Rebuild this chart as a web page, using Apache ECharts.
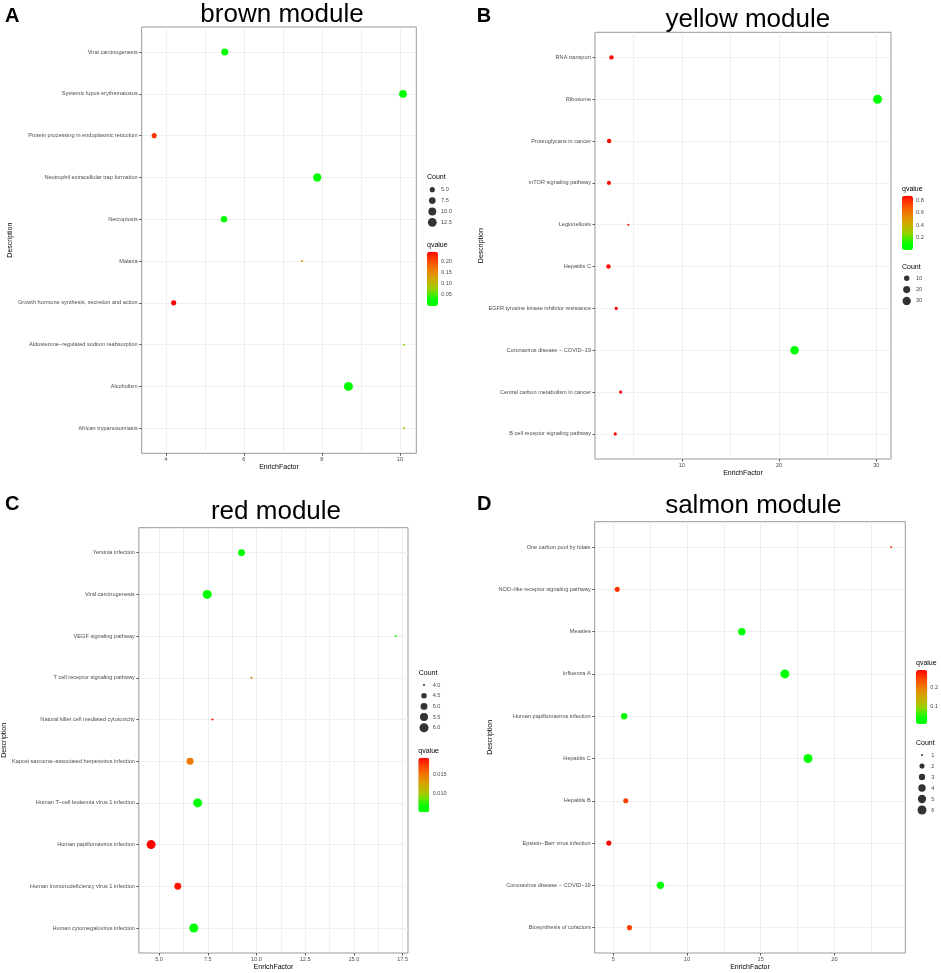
<!DOCTYPE html>
<html>
<head>
<meta charset="utf-8">
<title>KEGG enrichment of modules</title>
<script src="https://cdn.jsdelivr.net/npm/echarts@6/dist/echarts.min.js"></script>
<style>
html, body { margin: 0; padding: 0; background: #fff; }
#main { width: 941px; height: 973px; }
</style>
</head>
<body>
<div id="main"></div>
<script>
// A - brown module (categories listed top to bottom)
var catsA = ['Viral carcinogenesis', 'Systemic lupus erythematosus', 'Protein processing in endoplasmic reticulum',
    'Neutrophil extracellular trap formation', 'Necroptosis', 'Malaria', 'Growth hormone synthesis, secretion and action',
    'Aldosterone\u2212regulated sodium reabsorption', 'Alcoholism', 'African trypanosomiasis'];
var efA = [5.51, 10.08, 3.70, 7.88, 5.49, 7.49, 4.20, 10.10, 8.68, 10.10];
var cntA = [8, 10, 5, 11, 7, 3, 5, 3, 13, 3];
var qA = [0.003, 0.002, 0.21, 0.002, 0.008, 0.15, 0.241, 0.07, 0.001, 0.07];
var xTicksA = [4, 6, 8, 10];
var xGridA = [4, 5, 6, 7, 8, 9, 10];
var cntBreaksA = [5, 7.5, 10, 12.5];
var qBreaksA = [0.05, 0.10, 0.15, 0.20];

// B - yellow module
var catsB = ['RNA transport', 'Ribosome', 'Proteoglycans in cancer', 'mTOR signaling pathway', 'Legionellosis',
    'Hepatitis C', 'EGFR tyrosine kinase inhibitor resistance', 'Coronavirus disease \u2212 COVID\u221219',
    'Central carbon metabolism in cancer', 'B cell receptor signaling pathway'];
var efB = [2.76, 30.13, 2.52, 2.50, 4.50, 2.45, 3.25, 21.6, 3.70, 3.15];
var cntB = [6, 36, 6, 5, 2, 6, 3, 32, 3, 3];
var qB = [0.85, 0.0001, 0.86, 0.86, 0.87, 0.86, 0.87, 0.0002, 0.87, 0.87];
var xTicksB = [10, 20, 30];
var xGridB = [5, 10, 15, 20, 25, 30];
var cntBreaksB = [10, 20, 30];
var qBreaksB = [0.2, 0.4, 0.6, 0.8];

// C - red module
var catsC = ['Yersinia infection', 'Viral carcinogenesis', 'VEGF signaling pathway', 'T cell receptor signaling pathway',
    'Natural killer cell mediated cytotoxicity', 'Kaposi sarcoma\u2212associated herpesvirus infection',
    'Human T\u2212cell leukemia virus 1 infection', 'Human papillomavirus infection',
    'Human immunodeficiency virus 1 infection', 'Human cytomegalovirus infection'];
var efC = [9.23, 7.47, 17.15, 9.74, 7.74, 6.59, 6.98, 4.59, 5.96, 6.78];
var cntC = [5, 6, 4, 4, 4, 5, 6, 6, 5, 6];
var qC = [0.0055, 0.0050, 0.0056, 0.0152, 0.0196, 0.0150, 0.0051, 0.0195, 0.0190, 0.0052];
var xTicksC = [5, 7.5, 10, 12.5, 15, 17.5];
var xGridC = [5, 6.25, 7.5, 8.75, 10, 11.25, 12.5, 13.75, 15, 16.25, 17.5];
var cntBreaksC = [4, 4.5, 5, 5.5, 6];
var qBreaksC = [0.010, 0.015];

// D - salmon module
var catsD = ['One carbon pool by folate', 'NOD\u2212like receptor signaling pathway', 'Measles', 'Influenza A',
    'Human papillomavirus infection', 'Hepatitis C', 'Hepatitis B', 'Epstein\u2212Barr virus infection',
    'Coronavirus disease \u2212 COVID\u221219', 'Biosynthesis of cofactors'];
var efD = [23.85, 5.27, 13.72, 16.64, 5.74, 18.21, 5.85, 4.70, 8.20, 6.10];
var cntD = [1, 2, 4, 6, 3, 6, 2, 2, 4, 2];
var qD = [0.26, 0.265, 0.005, 0.003, 0.012, 0.0032, 0.255, 0.298, 0.006, 0.255];
var xTicksD = [5, 10, 15, 20];
var xGridD = [5, 7.5, 10, 12.5, 15, 17.5, 20, 22.5];
var cntBreaksD = [1, 2, 3, 4, 5, 6];
var qBreaksD = [0.1, 0.2];

var panels = [
    {letter: 'A', name: 'brown module', cats: catsA, ef: efA, cnt: cntA, q: qA,
        xTicks: xTicksA, xGrid: xGridA, xDec: 0, cntBreaks: cntBreaksA, cntDec: 1, qBreaks: qBreaksA, qDec: 2,
        plot: [141.7, 27, 274.6, 426.3], descGap: 128, efGap: 10, letterPos: [5, 6], titlePos: [282, 2],
        countTitle: [427, 174], countBox: [427.3, 184.2, 10, 43.6], countMargin: 3.7,
        qTitle: [427, 241.5], qBox: [427, 251.7, 11, 54.3], qMargin: 3},
    {letter: 'B', name: 'yellow module', cats: catsB, ef: efB, cnt: cntB, q: qB,
        xTicks: xTicksB, xGrid: xGridB, xDec: 0, cntBreaks: cntBreaksB, cntDec: 0, qBreaks: qBreaksB, qDec: 1,
        plot: [595, 32.3, 296, 426.7], descGap: 110, efGap: 9, letterPos: [476.7, 6], titlePos: [747.8, 7.3],
        countTitle: [902, 263.8], countBox: [901.7, 272.6, 10, 34], countMargin: 4.3,
        qTitle: [902, 185.8], qBox: [902, 195.7, 11, 54.3], qMargin: 3},
    {letter: 'C', name: 'red module', cats: catsC, ef: efC, cnt: cntC, q: qC,
        xTicks: xTicksC, xGrid: xGridC, xDec: 1, cntBreaks: cntBreaksC, cntDec: 1, qBreaks: qBreaksC, qDec: 3,
        plot: [138.7, 527.7, 269.3, 425.3], descGap: 130, efGap: 10.5, letterPos: [5, 494], titlePos: [276, 498.7],
        countTitle: [418.7, 669.2], countBox: [419, 679.7, 10, 53.4], countMargin: 3.7,
        qTitle: [418.3, 747.8], qBox: [418.3, 757.7, 11, 54.6], qMargin: 3.4},
    {letter: 'D', name: 'salmon module', cats: catsD, ef: efD, cnt: cntD, q: qD,
        xTicks: xTicksD, xGrid: xGridD, xDec: 0, cntBreaks: cntBreaksD, cntDec: 0, qBreaks: qBreaksD, qDec: 1,
        plot: [594.7, 521.7, 310.6, 431.3], descGap: 101, efGap: 10, letterPos: [477, 494], titlePos: [753.3, 493],
        countTitle: [916, 739.2], countBox: [917, 749.5, 10, 66], countMargin: 4.3,
        qTitle: [916, 659.8], qBox: [916, 670, 11.3, 54], qMargin: 3.4}
];

// green (low qvalue) -> red (high qvalue), flat green at the bottom like the R colorbar
var qColors = ['#00ff00', '#00ff00', '#40ee00', '#90d400', '#b8bc00', '#d0a800',
    '#e49000', '#f07400', '#fa5400', '#ff3000', '#ff0000'];

function bubble(c, lo, hi) {
    return 2 + 7 * Math.sqrt((c - lo) / (hi - lo));
}
function padRange(arr) {
    var lo = Math.min.apply(null, arr), hi = Math.max.apply(null, arr), d = (hi - lo) * 0.05;
    return [lo - d, hi + d];
}

var grids = [], xAxes = [], yAxes = [], series = [], visualMaps = [], titles = [];
var labelFont = 5.6, labelColor = '#4d4d4d';

panels.forEach(function (p) {
    var n = p.cats.length;
    var cLo = Math.min.apply(null, p.cnt), cHi = Math.max.apply(null, p.cnt);
    var qLo = Math.min.apply(null, p.q), qHi = Math.max.apply(null, p.q);
    var xr = padRange(p.ef);
    var yPos = p.cats.map(function (c, i) { return n - i; });

    // main bubble plot
    var g = grids.length;
    grids.push({left: p.plot[0], top: p.plot[1], width: p.plot[2], height: p.plot[3],
        show: true, borderColor: '#999', borderWidth: 1, backgroundColor: '#fff'});
    var xi = xAxes.length;
    xAxes.push({gridIndex: g, type: 'value', position: 'bottom', min: xr[0], max: xr[1],
        axisLine: {show: false}, axisTick: {show: false, customValues: p.xGrid}, axisLabel: {show: false},
        splitLine: {show: true, lineStyle: {color: '#ebebeb', width: 0.8}}});
    xAxes.push({gridIndex: g, type: 'value', position: 'bottom', min: xr[0], max: xr[1],
        axisLine: {show: false}, splitLine: {show: false},
        axisTick: {show: true, length: 2.5, customValues: p.xTicks, lineStyle: {color: '#333', width: 0.8}},
        axisLabel: {customValues: p.xTicks, margin: 3.5, fontSize: labelFont, color: labelColor,
            formatter: function (v) { return v.toFixed(p.xDec); }},
        name: 'EnrichFactor', nameLocation: 'middle', nameGap: p.efGap,
        nameTextStyle: {fontSize: 7, color: '#000'}});
    var yi = yAxes.length;
    yAxes.push({gridIndex: g, type: 'value', position: 'left', min: 0.4, max: n + 0.6,
        axisLine: {show: false},
        axisTick: {show: true, length: 2.5, customValues: yPos, lineStyle: {color: '#333', width: 0.8}},
        axisLabel: {customValues: yPos, margin: 4, fontSize: labelFont, color: labelColor,
            formatter: function (v) { return p.cats[n - Math.round(v)]; }},
        splitLine: {show: true, lineStyle: {color: '#ebebeb', width: 0.8}},
        name: 'Description', nameLocation: 'middle', nameRotate: 90, nameGap: p.descGap,
        nameTextStyle: {fontSize: 7, color: '#000'}});
    var si = series.length;
    series.push({type: 'scatter', xAxisIndex: xi, yAxisIndex: yi, symbol: 'circle',
        data: p.cats.map(function (c, i) { return [p.ef[i], n - i, p.cnt[i], p.q[i], c]; }),
        symbolSize: function (v) { return bubble(v[2], cLo, cHi); },
        itemStyle: {opacity: 1}});
    visualMaps.push({type: 'continuous', seriesIndex: si, dimension: 3, min: qLo, max: qHi,
        inRange: {color: qColors}, left: p.qBox[0], top: p.qBox[1],
        itemWidth: p.qBox[2], itemHeight: p.qBox[3], padding: 0,
        calculable: false, hoverLink: false, text: null});

    // Count legend
    var gc = grids.length;
    grids.push({left: p.countBox[0], top: p.countBox[1], width: p.countBox[2], height: p.countBox[3]});
    var xc = xAxes.length;
    xAxes.push({gridIndex: gc, type: 'value', min: 0, max: 1, show: false});
    var yc = yAxes.length;
    yAxes.push({gridIndex: gc, type: 'category', inverse: true, position: 'right',
        data: p.cntBreaks.map(function (b) { return b.toFixed(p.cntDec); }),
        axisLine: {show: false}, axisTick: {show: false}, splitLine: {show: false},
        axisLabel: {margin: p.countMargin, fontSize: labelFont, color: labelColor}});
    series.push({type: 'scatter', xAxisIndex: xc, yAxisIndex: yc, symbol: 'circle', silent: true,
        itemStyle: {color: '#000'},
        data: p.cntBreaks.map(function (b, i) { return [0.5, i, b]; }),
        symbolSize: function (v) { return bubble(v[2], cLo, cHi); }});

    // qvalue colorbar labels
    var gq = grids.length;
    grids.push({left: p.qBox[0], top: p.qBox[1], width: p.qBox[2], height: p.qBox[3]});
    xAxes.push({gridIndex: gq, type: 'value', min: 0, max: 1, show: false});
    yAxes.push({gridIndex: gq, type: 'value', min: qLo, max: qHi, position: 'right', z: 10,
        axisLine: {show: false}, splitLine: {show: false},
        axisTick: {show: true, inside: true, length: 2, customValues: p.qBreaks, lineStyle: {color: '#fff', width: 0.8}},
        axisLabel: {customValues: p.qBreaks, margin: p.qMargin, fontSize: labelFont, color: labelColor,
            formatter: function (v) { return v.toFixed(p.qDec); }}});

    titles.push({text: p.letter, left: p.letterPos[0], top: p.letterPos[1], padding: 0,
        textStyle: {fontSize: 20, fontWeight: 'bold', color: '#000'}});
    titles.push({text: p.name, left: p.titlePos[0], top: p.titlePos[1], padding: 0, textAlign: 'center',
        textStyle: {fontSize: 26, fontWeight: 'normal', color: '#000'}});
    titles.push({text: 'Count', left: p.countTitle[0], top: p.countTitle[1], padding: 0,
        textStyle: {fontSize: 7, fontWeight: 'normal', color: '#000'}});
    titles.push({text: 'qvalue', left: p.qTitle[0], top: p.qTitle[1], padding: 0,
        textStyle: {fontSize: 7, fontWeight: 'normal', color: '#000'}});
});

var myChart = echarts.init(document.getElementById('main'));
myChart.setOption({
    backgroundColor: '#fff',
    animation: false,
    textStyle: {fontFamily: 'Liberation Sans, Arial, sans-serif'},
    title: titles,
    grid: grids,
    xAxis: xAxes,
    yAxis: yAxes,
    visualMap: visualMaps,
    series: series
});
</script>
</body>
</html>
